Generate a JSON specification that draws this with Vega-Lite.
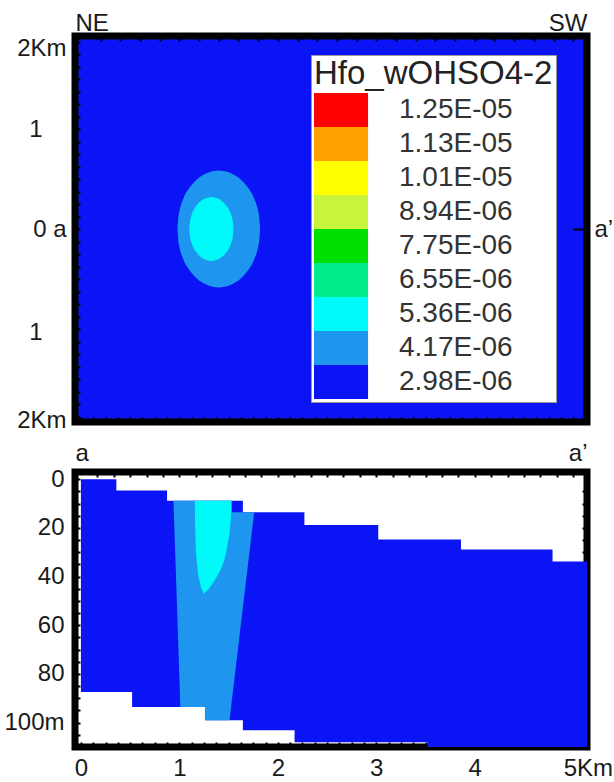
{
  "$schema": "https://vega.github.io/schema/vega-lite/v6.json",
  "padding": {"left": 0, "top": 0, "right": 0, "bottom": 0},
  "background": "white",
  "spacing": 1,
  "datasets": {
    "outer": [
      {"cls": "4.17E-06", "x": 0.98, "ylo": 0, "yhi": 0},
      {"cls": "4.17E-06", "x": 0.99, "ylo": -0.13, "yhi": 0.13},
      {"cls": "4.17E-06", "x": 1.0, "ylo": -0.18, "yhi": 0.18},
      {"cls": "4.17E-06", "x": 1.02, "ylo": -0.255, "yhi": 0.255},
      {"cls": "4.17E-06", "x": 1.06, "ylo": -0.35, "yhi": 0.35},
      {"cls": "4.17E-06", "x": 1.1, "ylo": -0.41, "yhi": 0.41},
      {"cls": "4.17E-06", "x": 1.15, "ylo": -0.47, "yhi": 0.47},
      {"cls": "4.17E-06", "x": 1.2, "ylo": -0.514, "yhi": 0.514},
      {"cls": "4.17E-06", "x": 1.25, "ylo": -0.546, "yhi": 0.546},
      {"cls": "4.17E-06", "x": 1.3, "ylo": -0.568, "yhi": 0.568},
      {"cls": "4.17E-06", "x": 1.35, "ylo": -0.581, "yhi": 0.581},
      {"cls": "4.17E-06", "x": 1.4, "ylo": -0.585, "yhi": 0.585},
      {"cls": "4.17E-06", "x": 1.45, "ylo": -0.581, "yhi": 0.581},
      {"cls": "4.17E-06", "x": 1.5, "ylo": -0.568, "yhi": 0.568},
      {"cls": "4.17E-06", "x": 1.55, "ylo": -0.546, "yhi": 0.546},
      {"cls": "4.17E-06", "x": 1.6, "ylo": -0.514, "yhi": 0.514},
      {"cls": "4.17E-06", "x": 1.65, "ylo": -0.47, "yhi": 0.47},
      {"cls": "4.17E-06", "x": 1.7, "ylo": -0.41, "yhi": 0.41},
      {"cls": "4.17E-06", "x": 1.74, "ylo": -0.35, "yhi": 0.35},
      {"cls": "4.17E-06", "x": 1.78, "ylo": -0.255, "yhi": 0.255},
      {"cls": "4.17E-06", "x": 1.8, "ylo": -0.18, "yhi": 0.18},
      {"cls": "4.17E-06", "x": 1.81, "ylo": -0.13, "yhi": 0.13},
      {"cls": "4.17E-06", "x": 1.82, "ylo": 0, "yhi": 0}
    ],
    "inner": [
      {"cls": "5.36E-06", "x": 1.1, "ylo": 0, "yhi": 0},
      {"cls": "5.36E-06", "x": 1.11, "ylo": -0.094, "yhi": 0.094},
      {"cls": "5.36E-06", "x": 1.13, "ylo": -0.16, "yhi": 0.16},
      {"cls": "5.36E-06", "x": 1.16, "ylo": -0.218, "yhi": 0.218},
      {"cls": "5.36E-06", "x": 1.2, "ylo": -0.266, "yhi": 0.266},
      {"cls": "5.36E-06", "x": 1.25, "ylo": -0.302, "yhi": 0.302},
      {"cls": "5.36E-06", "x": 1.3, "ylo": -0.318, "yhi": 0.318},
      {"cls": "5.36E-06", "x": 1.325, "ylo": -0.32, "yhi": 0.32},
      {"cls": "5.36E-06", "x": 1.35, "ylo": -0.318, "yhi": 0.318},
      {"cls": "5.36E-06", "x": 1.4, "ylo": -0.302, "yhi": 0.302},
      {"cls": "5.36E-06", "x": 1.45, "ylo": -0.266, "yhi": 0.266},
      {"cls": "5.36E-06", "x": 1.49, "ylo": -0.218, "yhi": 0.218},
      {"cls": "5.36E-06", "x": 1.52, "ylo": -0.16, "yhi": 0.16},
      {"cls": "5.36E-06", "x": 1.54, "ylo": -0.094, "yhi": 0.094},
      {"cls": "5.36E-06", "x": 1.55, "ylo": 0, "yhi": 0}
    ],
    "sect_blue": [
      {"cls": "2.98E-06", "x": 0.0, "top": 0, "bot": 87.4},
      {"cls": "2.98E-06", "x": 0.36, "top": 4.6, "bot": 87.4},
      {"cls": "2.98E-06", "x": 0.52, "top": 4.6, "bot": 93.6},
      {"cls": "2.98E-06", "x": 0.875, "top": 8.8, "bot": 93.6},
      {"cls": "2.98E-06", "x": 1.26, "top": 8.8, "bot": 99},
      {"cls": "2.98E-06", "x": 1.645, "top": 13.5, "bot": 103.1},
      {"cls": "2.98E-06", "x": 2.17, "top": 13.5, "bot": 108},
      {"cls": "2.98E-06", "x": 2.27, "top": 18.8, "bot": 108},
      {"cls": "2.98E-06", "x": 3.02, "top": 24.7, "bot": 108},
      {"cls": "2.98E-06", "x": 3.52, "top": 24.7, "bot": 110},
      {"cls": "2.98E-06", "x": 3.86, "top": 28.8, "bot": 110},
      {"cls": "2.98E-06", "x": 4.79, "top": 33.8, "bot": 110},
      {"cls": "2.98E-06", "x": 5.14, "top": 33.8, "bot": 110}
    ],
    "sect_plume": [
      {"cls": "4.17E-06", "x": 0.94, "top": 8.8, "bot": 8.8},
      {"cls": "4.17E-06", "x": 1.01, "top": 8.8, "bot": 93.6},
      {"cls": "4.17E-06", "x": 1.26, "top": 8.8, "bot": 93.6},
      {"cls": "4.17E-06", "x": 1.262, "top": 8.8, "bot": 99},
      {"cls": "4.17E-06", "x": 1.51, "top": 8.8, "bot": 99},
      {"cls": "4.17E-06", "x": 1.53, "top": 8.8, "bot": 91.9},
      {"cls": "4.17E-06", "x": 1.532, "top": 13.5, "bot": 91.2},
      {"cls": "4.17E-06", "x": 1.76, "top": 13.5, "bot": 13.5}
    ],
    "sect_cyan": [
      {"cls": "5.36E-06", "x": 1.157, "top": 8.8, "bot": 8.8},
      {"cls": "5.36E-06", "x": 1.16, "top": 8.8, "bot": 20},
      {"cls": "5.36E-06", "x": 1.17, "top": 8.8, "bot": 31},
      {"cls": "5.36E-06", "x": 1.19, "top": 8.8, "bot": 39},
      {"cls": "5.36E-06", "x": 1.22, "top": 8.8, "bot": 44.5},
      {"cls": "5.36E-06", "x": 1.25, "top": 8.8, "bot": 47},
      {"cls": "5.36E-06", "x": 1.3, "top": 8.8, "bot": 45},
      {"cls": "5.36E-06", "x": 1.35, "top": 8.8, "bot": 42},
      {"cls": "5.36E-06", "x": 1.41, "top": 8.8, "bot": 38},
      {"cls": "5.36E-06", "x": 1.45, "top": 8.8, "bot": 34},
      {"cls": "5.36E-06", "x": 1.48, "top": 8.8, "bot": 29},
      {"cls": "5.36E-06", "x": 1.51, "top": 8.8, "bot": 22},
      {"cls": "5.36E-06", "x": 1.525, "top": 8.8, "bot": 15},
      {"cls": "5.36E-06", "x": 1.53, "top": 8.8, "bot": 8.8}
    ]
  },
  "vconcat": [
    {
      "width": 512,
      "height": 386,
      "view": {"fill": "#0A14F5", "stroke": "black", "strokeWidth": 7},
      "layer": [
        {
          "data": {"name": "outer"},
          "mark": {"type": "area", "opacity": 1, "interpolate": "linear"},
          "encoding": {
            "x": {"field": "x", "type": "quantitative", "scale": {"domain": [-0.06, 5.14], "nice": false, "zero": false},
              "axis": {"orient": "bottom", "title": null, "labels": false, "tickSize": -5, "minExtent": 0, "maxExtent": 0,
                "values": [0,0.125,0.25,0.375,0.5,0.625,0.75,0.875,1,1.125,1.25,1.375,1.5,1.625,1.75,1.875,2,2.125,2.25,2.375,2.5,2.625,2.75,2.875,3,3.125,3.25,3.375,3.5,3.625,3.75,3.875,4,4.125,4.25,4.375,4.5,4.625,4.75,4.875,5]}},
            "y": {"field": "ylo", "type": "quantitative", "stack": null, "scale": {"domain": [-1.93, 1.93], "nice": false, "zero": false},
              "axis": {"orient": "left", "title": null, "tickSize": -5, "minExtent": 70, "maxExtent": 70,
                "labelPadding": {"condition": {"test": "abs(datum.value) == 1", "value": 38}, "value": 14},
                "labelOffset": {"expr": "datum.value > 1.8 ? 7 : (datum.value < -1.8 ? 4 : (datum.value == -1 ? 3 : 0))"},
                "values": [-1.875,-1.75,-1.625,-1.5,-1.375,-1.25,-1.125,-1,-0.875,-0.75,-0.625,-0.5,-0.375,-0.25,-0.125,0,0.125,0.25,0.375,0.5,0.625,0.75,0.875,1,1.125,1.25,1.375,1.5,1.625,1.75,1.875],
                "labelExpr": "abs(datum.value) > 1.8 ? '2Km' : (datum.value == 0 ? '0 a' : (abs(datum.value) == 1 ? '1' : ''))"}},
            "y2": {"field": "yhi"},
            "color": {"field": "cls", "type": "nominal",
              "scale": {"domain": ["1.25E-05","1.13E-05","1.01E-05","8.94E-06","7.75E-06","6.55E-06","5.36E-06","4.17E-06","2.98E-06"],
                        "range": ["#FF0000","#FFA000","#FFFF00","#C8F53C","#00E000","#00EB8C","#00FAFA","#1E96F0","#0A14F5"]},
              "legend": {"orient": "none", "legendX": 236, "legendY": 19, "title": "Hfo_wOHSO4-2",
                "titleFont": "Liberation Sans", "titleFontSize": 33, "titleFontWeight": "normal", "titleColor": "#222222", "titlePadding": 2, "titleLimit": 400,
                "symbolType": "M-1,-1H2.18V1H-1Z", "symbolSize": 1156, "symbolStrokeWidth": 0, "symbolOpacity": 1,
                "labelFont": "Liberation Sans", "labelFontSize": 28, "labelColor": "#333333", "labelOffset": 51, "labelLimit": 300,
                "rowPadding": 0, "padding": 3, "fillColor": "white", "strokeColor": "#999999"}}
          }
        },
        {
          "data": {"name": "inner"},
          "mark": {"type": "area", "opacity": 1, "interpolate": "linear"},
          "encoding": {
            "x": {"field": "x", "type": "quantitative", "scale": {"domain": [-0.06, 5.14], "nice": false, "zero": false},
              "axis": {"orient": "top", "title": null, "tickSize": -5, "labelPadding": 6, "minExtent": 32, "maxExtent": 32,
                "values": [-0.06,0.2,0.4,0.6,0.8,1,1.2,1.4,1.6,1.8,2,2.2,2.4,2.6,2.8,3,3.2,3.4,3.6,3.8,4,4.2,4.4,4.6,4.8,5,5.14],
                "labelExpr": "datum.value < 0 ? 'NE' : (datum.value > 5.1 ? 'SW' : '')",
                "labelAlign": {"condition": {"test": "datum.value < 0", "value": "left"}, "value": "right"}}},
            "y": {"field": "ylo", "type": "quantitative", "stack": null, "scale": {"domain": [-1.93, 1.93], "nice": false, "zero": false},
              "axis": {"orient": "right", "title": null, "tickSize": -14, "labelPadding": 21, "values": [0], "labelExpr": "'a\u2019'"}},
            "y2": {"field": "yhi"},
            "color": {"field": "cls", "type": "nominal",
              "scale": {"domain": ["1.25E-05","1.13E-05","1.01E-05","8.94E-06","7.75E-06","6.55E-06","5.36E-06","4.17E-06","2.98E-06"],
                        "range": ["#FF0000","#FFA000","#FFFF00","#C8F53C","#00E000","#00EB8C","#00FAFA","#1E96F0","#0A14F5"]}}
          }
        }
      ],
      "resolve": {"axis": {"x": "independent", "y": "independent"}}
    },
    {
      "width": 512,
      "height": 275,
      "view": {"fill": "white", "stroke": "black", "strokeWidth": 7},
      "layer": [
        {
          "data": {"name": "sect_blue"},
          "mark": {"type": "area", "opacity": 1, "interpolate": "step-after"},
          "encoding": {
            "x": {"field": "x", "type": "quantitative", "scale": {"domain": [-0.06, 5.14], "nice": false, "zero": false},
              "axis": {"orient": "bottom", "title": null, "tickSize": -5, "labelPadding": 14,
                "values": [0,0.125,0.25,0.375,0.5,0.625,0.75,0.875,1,1.125,1.25,1.375,1.5,1.625,1.75,1.875,2,2.125,2.25,2.375,2.5,2.625,2.75,2.875,3,3.125,3.25,3.375,3.5,3.625,3.75,3.875,4,4.125,4.25,4.375,4.5,4.625,4.75,4.875,5],
                "labelExpr": "datum.value == 5 ? '5Km' : (datum.value % 1 == 0 ? toString(datum.value) : '')",
                "labelAlign": {"condition": {"test": "datum.value == 5", "value": "left"}, "value": "center"},
                "labelOffset": {"condition": {"test": "datum.value == 5", "value": -10}, "value": 0}}},
            "y": {"field": "top", "type": "quantitative", "stack": null, "scale": {"domain": [-3, 110], "nice": false, "zero": false, "reverse": true},
              "axis": {"orient": "left", "title": null, "tickSize": -5, "labelPadding": 16, "minExtent": 70, "maxExtent": 70,
                "values": [0,5,10,15,20,25,30,35,40,45,50,55,60,65,70,75,80,85,90,95,100,105,110],
                "labelExpr": "datum.value == 100 ? '100m' : (datum.value % 20 == 0 ? toString(datum.value) : '')"}},
            "y2": {"field": "bot"},
            "color": {"field": "cls", "type": "nominal", "legend": null,
              "scale": {"domain": ["1.25E-05","1.13E-05","1.01E-05","8.94E-06","7.75E-06","6.55E-06","5.36E-06","4.17E-06","2.98E-06"],
                        "range": ["#FF0000","#FFA000","#FFFF00","#C8F53C","#00E000","#00EB8C","#00FAFA","#1E96F0","#0A14F5"]}}
          }
        },
        {
          "data": {"name": "sect_plume"},
          "mark": {"type": "area", "opacity": 1, "interpolate": "linear"},
          "encoding": {
            "x": {"field": "x", "type": "quantitative", "scale": {"domain": [-0.06, 5.14], "nice": false, "zero": false},
              "axis": {"orient": "top", "title": null, "tickSize": -5, "labelPadding": 12, "minExtent": 30, "maxExtent": 30,
                "values": [-0.06,0.1667,0.3333,0.5,0.6667,0.8333,1,1.1667,1.3333,1.5,1.6667,1.8333,2,2.1667,2.3333,2.5,2.6667,2.8333,3,3.1667,3.3333,3.5,3.6667,3.8333,4,4.1667,4.3333,4.5,4.6667,4.8333,5,5.14],
                "labelExpr": "datum.value < 0 ? 'a' : (datum.value > 5.1 ? 'a\u2019' : '')",
                "labelAlign": {"condition": {"test": "datum.value < 0", "value": "left"}, "value": "right"}}},
            "y": {"field": "top", "type": "quantitative", "stack": null, "scale": {"domain": [-3, 110], "nice": false, "zero": false, "reverse": true},
              "axis": {"orient": "right", "title": null, "tickSize": -5, "labels": false,
                "values": [5,10,15,20,25,30,35,40,45,50,55,60,65,70,75,80,85,90,95,100,105]}},
            "y2": {"field": "bot"},
            "color": {"field": "cls", "type": "nominal", "legend": null,
              "scale": {"domain": ["1.25E-05","1.13E-05","1.01E-05","8.94E-06","7.75E-06","6.55E-06","5.36E-06","4.17E-06","2.98E-06"],
                        "range": ["#FF0000","#FFA000","#FFFF00","#C8F53C","#00E000","#00EB8C","#00FAFA","#1E96F0","#0A14F5"]}}
          }
        },
        {
          "data": {"name": "sect_cyan"},
          "mark": {"type": "area", "opacity": 1, "interpolate": "linear"},
          "encoding": {
            "x": {"field": "x", "type": "quantitative", "scale": {"domain": [-0.06, 5.14], "nice": false, "zero": false}, "axis": null},
            "y": {"field": "top", "type": "quantitative", "stack": null, "scale": {"domain": [-3, 110], "nice": false, "zero": false, "reverse": true}, "axis": null},
            "y2": {"field": "bot"},
            "color": {"field": "cls", "type": "nominal", "legend": null,
              "scale": {"domain": ["1.25E-05","1.13E-05","1.01E-05","8.94E-06","7.75E-06","6.55E-06","5.36E-06","4.17E-06","2.98E-06"],
                        "range": ["#FF0000","#FFA000","#FFFF00","#C8F53C","#00E000","#00EB8C","#00FAFA","#1E96F0","#0A14F5"]}}
          }
        }
      ],
      "resolve": {"axis": {"x": "independent", "y": "independent"}}
    }
  ],
  "resolve": {"scale": {"color": "independent"}},
  "config": {
    "font": "Liberation Sans",
    "axis": {"labelFont": "Liberation Sans", "labelFontSize": 24, "labelColor": "#1a1a1a", "tickColor": "black", "tickWidth": 2,
      "domain": false, "grid": false, "labelOverlap": false, "labelFlush": false, "labelBound": false}
  }
}
